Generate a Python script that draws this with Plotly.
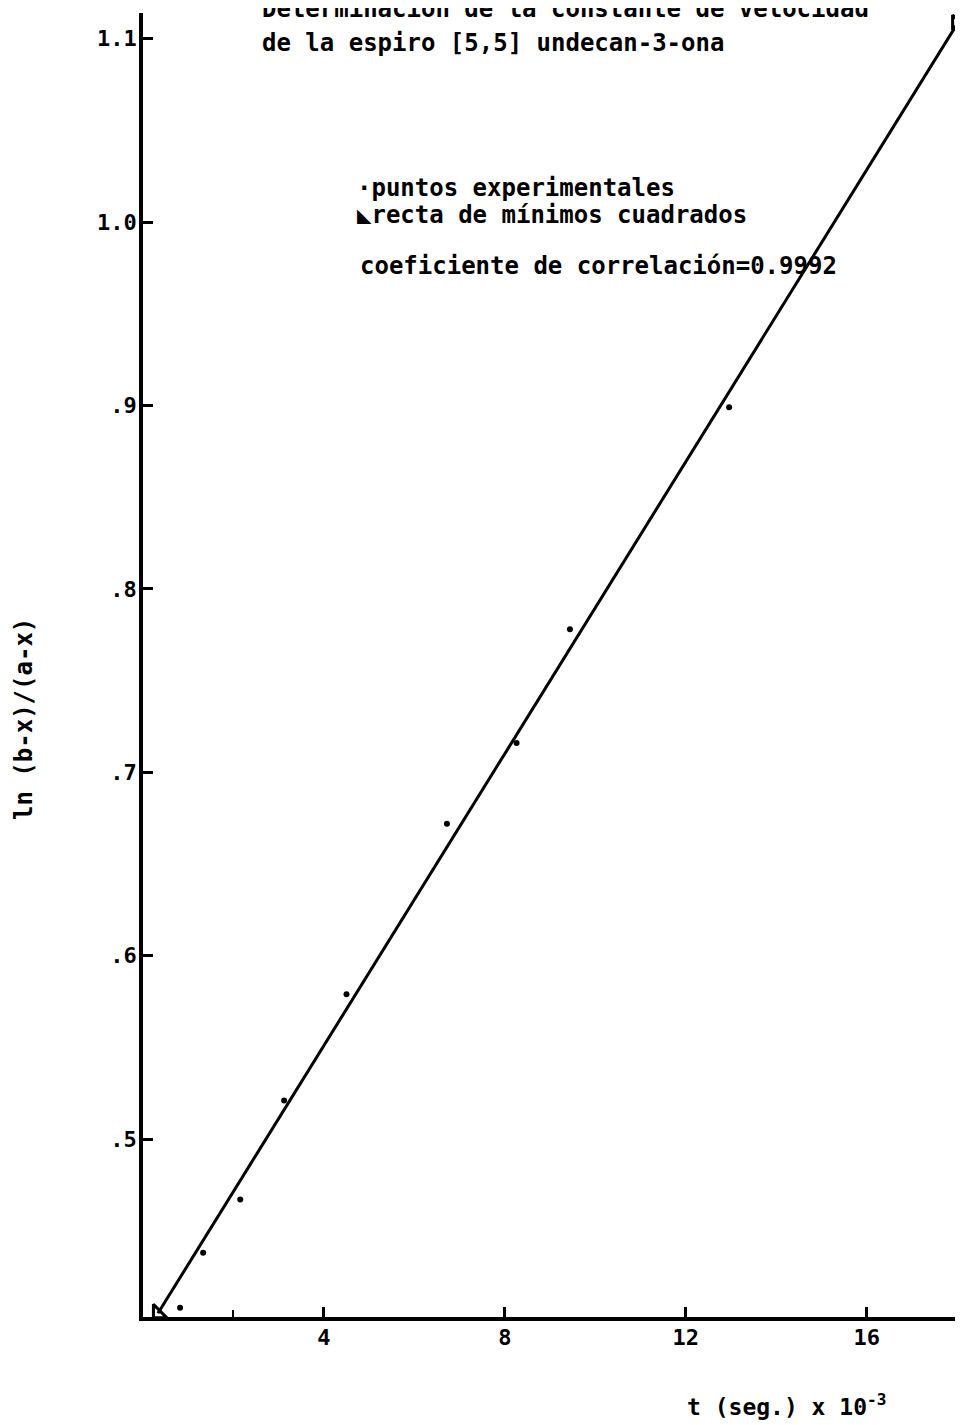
import plotly.graph_objects as go

# Experimental points (t in seconds x 10^-3, ln (b-x)/(a-x))
t_exp = [0.82, 1.33, 2.15, 3.12, 4.50, 6.72, 8.26, 9.44, 12.96]
y_exp = [0.408, 0.438, 0.467, 0.521, 0.579, 0.672, 0.716, 0.778, 0.899]

# Least-squares line end points
t_fit = [0.33, 18.0]
y_fit = [0.405, 1.108]

x_tickvals = [4, 8, 12, 16]
x_ticktext = ["4", "8", "12", "16"]
y_tickvals = [0.5, 0.6, 0.7, 0.8, 0.9, 1.0, 1.1]
y_ticktext = [".5", ".6", ".7", ".8", ".9", "1.0", "1.1"]

FONT = "DejaVu Sans Mono"
fnt = dict(family=FONT, size=24, color="black", weight="bold")

fig = go.Figure()
fig.add_trace(go.Scatter(
    x=t_fit, y=y_fit, mode="lines+markers",
    line=dict(color="black", width=3),
    marker=dict(symbol="triangle-sw-open", size=15, color="black",
                line=dict(color="black", width=3)),
    cliponaxis=False, showlegend=False, hoverinfo="skip"))
fig.add_trace(go.Scatter(
    x=t_exp, y=y_exp, mode="markers",
    marker=dict(symbol="circle", size=6, color="black"),
    cliponaxis=False, showlegend=False))

OFF = 8  # page body margin
W, H = 963 - OFF, 1425 - OFF
# plot area in page pixels: x 143.5..958, y 13..1317
ml = 143 - OFF
mr = W - (958 - OFF)
mt = 13 - OFF
mb = H - (1317 - OFF)
pw, ph = W - ml - mr, H - mt - mb


def px(xp):
    return (xp - OFF - ml) / pw


def py(yp):
    return (H - mb - (yp - OFF)) / ph


anns = [
    ("Determinación de la constante de velocidad", 260, 19),
    ("de la espiro [5,5] undecan-3-ona", 260, 53),
    ("·puntos experimentales", 355, 198),
    ("◣recta de mínimos cuadrados", 355, 225),
    ("coeficiente de correlación=0.9992", 358, 276),
]
for txt, xp, yp in anns:
    fig.add_annotation(text=txt, xref="paper", yref="paper",
                       x=px(xp), y=py(yp), xanchor="left", yanchor="bottom",
                       showarrow=False, font=fnt, yshift=-6)

fig.add_annotation(text="t (seg.) x 10<sup>-3</sup>", xref="paper", yref="paper",
                   x=px(786), y=py(1405), xanchor="center", yanchor="middle",
                   showarrow=False, font=dict(family=FONT, size=23, color="black", weight="bold"))
fig.add_annotation(text="ln (b-x)/(a-x)", xref="paper", yref="paper",
                   x=px(24), y=py(719), xanchor="center", yanchor="middle",
                   textangle=-90, showarrow=False,
                   font=dict(family=FONT, size=24, color="black", weight="bold"))

fig.update_layout(
    width=W, height=H,
    margin=dict(l=ml, r=mr, t=mt, b=mb),
    plot_bgcolor="white", paper_bgcolor="white",
    font=dict(family=FONT, size=22, color="black", weight="bold"),
    xaxis=dict(range=[0, 18.02], showgrid=False, zeroline=False,
               showline=True, linecolor="black", linewidth=3.5,
               tickmode="array", tickvals=x_tickvals, ticktext=x_ticktext,
               ticks="inside", ticklen=10, tickwidth=2.5, tickcolor="black",
               ticklabelstandoff=-2,
               minor=dict(tickvals=[2], ticks="inside", ticklen=7,
                          tickwidth=2, tickcolor="black"),
               tickfont=dict(family=FONT, size=22, color="black", weight="bold")),
    yaxis=dict(range=[0.403, 1.114], showgrid=False, zeroline=False,
               showline=True, linecolor="black", linewidth=3.5,
               tickmode="array", tickvals=y_tickvals, ticktext=y_ticktext,
               ticks="inside", ticklen=10, tickwidth=2.5, tickcolor="black",
               ticklabelstandoff=-2,
               tickfont=dict(family=FONT, size=22, color="black", weight="bold")),
)

fig.write_html("out.html")
